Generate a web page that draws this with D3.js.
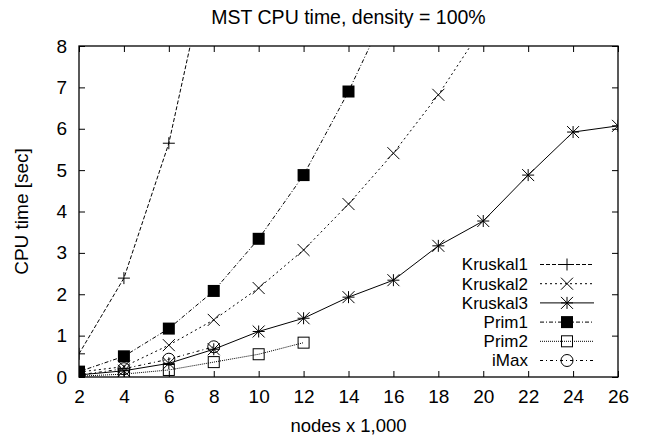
<!DOCTYPE html>
<html>
<head>
<meta charset="utf-8">
<script src="https://cdn.jsdelivr.net/npm/d3@7"></script>
<style>
  body { margin: 0; background: #fff; }
  svg { font-family: "Liberation Sans", Arial, Helvetica, sans-serif; }
</style>
</head>
<body>
<div id="chart"></div>
<script>
// data, nodes x 1,000 -> CPU seconds
const nodes = [2, 4, 6, 8, 10, 12, 14, 16, 18, 20, 22, 24, 26];
const kruskal1 = [0.56, 2.39, 5.65, 10.6];
const kruskal2 = [0.12, 0.25, 0.77, 1.38, 2.15, 3.07, 4.18, 5.41, 6.82, 8.47];
const kruskal3 = [0.05, 0.15, 0.33, 0.67, 1.1, 1.42, 1.93, 2.34, 3.17, 3.77, 4.88, 5.92, 6.07];
const prim1 = [0.13, 0.5, 1.17, 2.08, 3.34, 4.88, 6.9, 9.2];
const prim2 = [0.02, 0.07, 0.17, 0.36, 0.55, 0.83];
const imax = [0.05, 0.2, 0.43, 0.73];
const xTicks = [2, 4, 6, 8, 10, 12, 14, 16, 18, 20, 22, 24, 26];
const yTicks = [0, 1, 2, 3, 4, 5, 6, 7, 8];

const series = [
  { name: "Kruskal1", values: kruskal1, dash: "4,2", marker: "plus" },
  { name: "Kruskal2", values: kruskal2, dash: "2,3", marker: "cross" },
  { name: "Kruskal3", values: kruskal3, dash: null, marker: "star" },
  { name: "Prim1", values: prim1, dash: "4,2,1,2", marker: "fsquare" },
  { name: "Prim2", values: prim2, dash: "1,1", marker: "square" },
  { name: "iMax", values: imax, dash: "3,3,1,3", marker: "circle" },
];

const width = 645, height = 438;
const margin = { left: 79, right: 27, top: 46, bottom: 61 };
const fontSize = 19;

const svg = d3.select("#chart").append("svg")
  .attr("width", width)
  .attr("height", height);

const x = d3.scaleLinear().domain([2, 26]).range([margin.left, width - margin.right]);
const y = d3.scaleLinear().domain([0, 8]).range([height - margin.bottom, margin.top]);

svg.append("defs").append("clipPath").attr("id", "plot-clip")
  .append("rect")
  .attr("x", margin.left).attr("y", margin.top)
  .attr("width", x.range()[1] - x.range()[0])
  .attr("height", y.range()[0] - y.range()[1]);

// axes, ticks pointing inward on all four sides
const tickLen = 6;
svg.append("g")
  .attr("transform", `translate(0,${y(0)})`)
  .call(d3.axisBottom(x).tickValues(xTicks).tickSizeInner(-tickLen).tickSizeOuter(0).tickPadding(13))
  .call(g => g.select(".domain").remove());
svg.append("g")
  .attr("transform", `translate(0,${y(8)})`)
  .call(d3.axisTop(x).tickValues(xTicks).tickSizeInner(-tickLen).tickSizeOuter(0).tickFormat(""))
  .call(g => g.select(".domain").remove());
svg.append("g")
  .attr("transform", `translate(${x(2)},0)`)
  .call(d3.axisLeft(y).tickValues(yTicks).tickSizeInner(-tickLen).tickSizeOuter(0).tickPadding(12))
  .call(g => g.select(".domain").remove());
svg.append("g")
  .attr("transform", `translate(${x(26)},0)`)
  .call(d3.axisRight(y).tickValues(yTicks).tickSizeInner(-tickLen).tickSizeOuter(0).tickFormat(""))
  .call(g => g.select(".domain").remove());

svg.selectAll(".tick text")
  .attr("font-size", fontSize)
  .attr("font-family", "Liberation Sans, Arial, sans-serif")
  .attr("fill", "#000");
svg.selectAll(".tick line").attr("stroke", "#000");

svg.append("rect")
  .attr("x", margin.left).attr("y", margin.top)
  .attr("width", x.range()[1] - x.range()[0])
  .attr("height", y.range()[0] - y.range()[1])
  .attr("fill", "none")
  .attr("stroke", "#000")
  .attr("stroke-width", 1.3);

// markers
function drawMarker(g, type, cx, cy) {
  const s = 6;
  if (type === "plus") {
    g.append("path").attr("d", `M${cx - s},${cy}H${cx + s}M${cx},${cy - s}V${cy + s}`)
      .attr("stroke", "#000").attr("fill", "none");
  } else if (type === "cross") {
    g.append("path").attr("d", `M${cx - s},${cy - s}L${cx + s},${cy + s}M${cx - s},${cy + s}L${cx + s},${cy - s}`)
      .attr("stroke", "#000").attr("fill", "none");
  } else if (type === "star") {
    g.append("path").attr("d", `M${cx - s},${cy - s}L${cx + s},${cy + s}M${cx - s},${cy + s}L${cx + s},${cy - s}M${cx - s},${cy}H${cx + s}M${cx},${cy - s}V${cy + s}`)
      .attr("stroke", "#000").attr("fill", "none");
  } else if (type === "fsquare") {
    g.append("rect").attr("x", cx - s).attr("y", cy - s).attr("width", 2 * s).attr("height", 2 * s)
      .attr("fill", "#000");
  } else if (type === "square") {
    g.append("rect").attr("x", cx - 5.5).attr("y", cy - 5.5).attr("width", 11).attr("height", 11)
      .attr("fill", "none").attr("stroke", "#000");
  } else if (type === "circle") {
    g.append("circle").attr("cx", cx).attr("cy", cy).attr("r", 6)
      .attr("fill", "none").attr("stroke", "#000");
  }
}

const line = d3.line()
  .x((d, i) => x(nodes[i]))
  .y(d => y(d));

const plot = svg.append("g").attr("clip-path", "url(#plot-clip)");
series.forEach(s => {
  plot.append("path")
    .datum(s.values)
    .attr("d", line)
    .attr("fill", "none")
    .attr("stroke", "#000")
    .attr("stroke-width", 1)
    .attr("stroke-dasharray", s.dash);
  const mg = plot.append("g");
  s.values.forEach((v, i) => drawMarker(mg, s.marker, x(nodes[i]), y(v)));
});

// legend (slightly smaller text so the rows do not collide)
const legendRight = 528, sampleX1 = 540, sampleX2 = 594, legendTop = 264.5, legendStep = 19.2;
series.forEach((s, i) => {
  const ly = legendTop + i * legendStep;
  svg.append("text")
    .attr("x", legendRight).attr("y", ly)
    .attr("dy", "0.35em")
    .attr("text-anchor", "end")
    .attr("font-size", 17)
    .text(s.name);
  svg.append("line")
    .attr("x1", sampleX1).attr("x2", sampleX2)
    .attr("y1", ly).attr("y2", ly)
    .attr("stroke", "#000")
    .attr("stroke-dasharray", s.dash);
  const lg = svg.append("g");
  drawMarker(lg, s.marker, (sampleX1 + sampleX2) / 2, ly);
});

// titles
svg.append("text")
  .attr("x", (margin.left + width - margin.right) / 2)
  .attr("y", 24)
  .attr("text-anchor", "middle")
  .attr("font-size", 19.5)
  .text("MST CPU time, density = 100%");

svg.append("text")
  .attr("x", (margin.left + width - margin.right) / 2)
  .attr("y", 432)
  .attr("text-anchor", "middle")
  .attr("font-size", 18.5)
  .text("nodes x 1,000");

svg.append("text")
  .attr("transform", `translate(28,${(margin.top + height - margin.bottom) / 2}) rotate(-90)`)
  .attr("text-anchor", "middle")
  .attr("font-size", fontSize)
  .text("CPU time [sec]");
</script>
</body>
</html>
